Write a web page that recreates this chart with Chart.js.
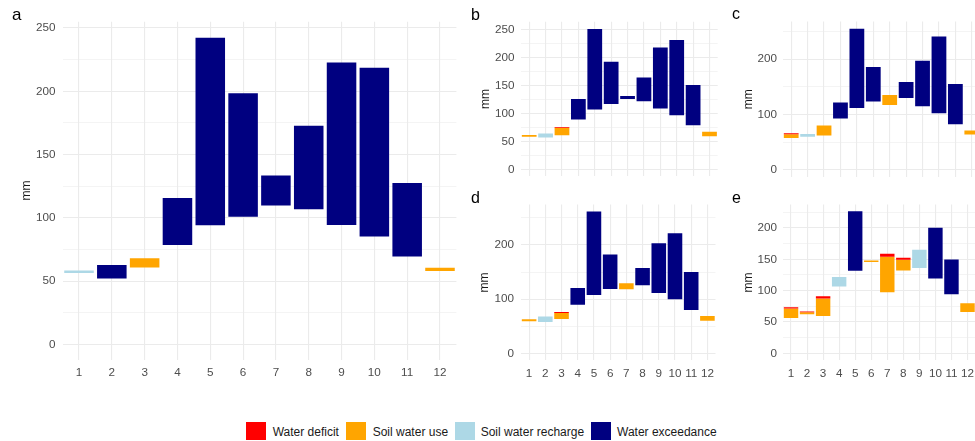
<!DOCTYPE html>
<html lang="en">
<head>
<meta charset="UTF-8">
<title>Monthly water balance</title>
<script src="https://cdn.jsdelivr.net/npm/chart.js"></script>
<style>
    body {
        margin: 0;
        background: #fff;
        overflow: hidden;
        font-family: "Liberation Sans", Arial, sans-serif;
    }
    #page {
        position: relative;
        width: 975px;
        height: 441px;
        overflow: hidden;
    }
    canvas {
        position: absolute;
    }
    .tag {
        position: absolute;
        color: #000;
        line-height: 1;
    }
    .key {
        position: absolute;
        top: 421.5px;
        width: 20px;
        height: 18px;
    }
    .lab {
        position: absolute;
        top: 425.8px;
        font-size: 12px;
        line-height: 1;
        color: #1a1a1a;
        white-space: nowrap;
    }
</style>
</head>
<body>
<div id="page">
    <canvas id="chartA" width="460" height="390" style="left:0;top:0"></canvas>
    <canvas id="chartB" width="260" height="190" style="left:460px;top:0"></canvas>
    <canvas id="chartC" width="260" height="190" style="left:720px;top:0"></canvas>
    <canvas id="chartD" width="260" height="200" style="left:460px;top:190px"></canvas>
    <canvas id="chartE" width="260" height="200" style="left:720px;top:190px"></canvas>

    <div class="tag" style="left:12px;top:5.6px;font-size:17px">a</div>
    <div class="tag" style="left:471px;top:7px;font-size:16px">b</div>
    <div class="tag" style="left:732px;top:6px;font-size:16px">c</div>
    <div class="tag" style="left:471px;top:190px;font-size:16px">d</div>
    <div class="tag" style="left:732px;top:189.5px;font-size:16px">e</div>

    <div class="key" style="left:245.5px;background:#FF0000"></div>
    <div class="lab" style="left:272.7px">Water deficit</div>
    <div class="key" style="left:345.5px;background:#FFA500"></div>
    <div class="lab" style="left:372.7px">Soil water use</div>
    <div class="key" style="left:454.5px;background:#ADD8E6"></div>
    <div class="lab" style="left:480.7px">Soil water recharge</div>
    <div class="key" style="left:590.5px;background:#000080"></div>
    <div class="lab" style="left:617px">Water exceedance</div>
</div>

<script>
    const months = ['1', '2', '3', '4', '5', '6', '7', '8', '9', '10', '11', '12'];
    const seriesNames = ['Water deficit', 'Soil water use', 'Soil water recharge', 'Water exceedance'];
    const seriesColors = ['#FF0000', '#FFA500', '#ADD8E6', '#000080'];

    // each entry is [bottom, top] in mm, null = no bar that month
    // panel a
    const aDeficit = [null, null, null, null, null, null, null, null, null, null, null, null];
    const aUse = [null, null, [60.8, 68.1], null, null, null, null, null, null, null, null, [57.9, 60.5]];
    const aRecharge = [[56.3, 58.4], null, null, null, null, null, null, null, null, null, null, null];
    const aExceed = [null, [52, 62.6], null, [78.6, 115.6], [94.1, 242.4], [100.9, 198.4], [109.8, 133.4], [106.7, 172.7], [94.3, 222.7], [85.2, 218.6], [69.4, 127.6], null];

    // panel b
    const bDeficit = [null, null, [74.5, 76], null, null, null, null, null, null, null, null, null];
    const bUse = [[58.5, 61.5], null, [61.2, 74.5], null, null, null, null, null, null, null, null, [59.4, 67.6]];
    const bRecharge = [null, [57, 64.1], null, null, null, null, null, null, null, null, null, null];
    const bExceed = [null, null, null, [89.4, 125.9], [107, 250.6], [117, 192.4], [126, 131], [121.8, 164], [108.8, 217.6], [97, 231], [78.8, 150.6], null];

    // panel c
    const cDeficit = [[64.5, 66], null, null, null, null, null, null, null, null, null, null, null];
    const cUse = [[57.5, 64.5], null, [62.3, 80.2], null, null, null, [117.4, 135.3], null, null, null, null, [64, 71.3]];
    const cRecharge = [null, [59.9, 64.7], null, null, null, null, null, null, null, null, null, null];
    const cExceed = [null, null, null, [92.8, 121.6], [112, 255], [123.4, 185.6], null, [130, 158.7], [115, 197], [102.4, 240.7], [82.6, 155], null];

    // panel d
    const dDeficit = [null, null, [74.5, 76.3], null, null, null, null, null, null, null, null, null];
    const dUse = [[59.1, 62.8], null, [63.4, 74.5], null, null, null, [118.2, 129.2], null, null, null, null, [60.3, 68.9]];
    const dRecharge = [null, [57.8, 67.7], null, null, null, null, null, null, null, null, null, null];
    const dExceed = [null, null, null, [89.8, 120.6], [107.7, 261.5], [118.8, 182.2], null, [125.5, 157.5], [111.4, 203], [99.7, 221.5], [80, 150.2], null];

    // panel e
    const eDeficit = [[71.5, 73.6], [65.5, 66.7], [87.5, 91.2], null, null, null, [154.1, 159], [149.3, 152.5], null, null, null, null];
    const eUse = [[56.5, 71.5], [62.4, 65.5], [59.7, 87.5], null, null, [145.6, 148.3], [97.6, 154.1], [132.3, 149.3], null, null, null, [66.1, 80]];
    const eRecharge = [null, null, null, [106.7, 121.6], null, null, null, null, [136, 165.3], null, null, null];
    const eExceed = [null, null, null, null, [131.7, 226.7], null, null, null, null, [119.5, 200.5], [94.4, 149.9], null];

    const gridColor = '#EBEBEB';
    const tickColor = '#4D4D4D';
    const fontFamily = '"Liberation Sans", Arial, sans-serif';

    function makePanel(id, series, p) {
        let datasets = series.map((values, i) => ({
            label: seriesNames[i],
            data: values,
            backgroundColor: seriesColors[i],
            borderWidth: 0,
            grouped: false,
            categoryPercentage: 0.9,
            barPercentage: 1.0
        }));

        return new Chart(document.getElementById(id), {
            type: 'bar',
            data: { labels: months, datasets: datasets },
            options: {
                responsive: false,
                animation: false,
                layout: { padding: p.padding },
                plugins: {
                    legend: { display: false },
                    tooltip: { enabled: false }
                },
                scales: {
                    x: {
                        offset: true,
                        border: { display: false },
                        grid: { color: gridColor, lineWidth: 1.1, offset: false, drawTicks: false },
                        ticks: {
                            display: p.showX,
                            color: tickColor,
                            font: { family: fontFamily, size: 11.7 },
                            padding: 6,
                            autoSkip: false,
                            maxRotation: 0,
                            minRotation: 0
                        },
                        afterFit: (s) => { s.height = p.xHeight; }
                    },
                    y: {
                        min: p.min,
                        max: p.max,
                        border: { display: false },
                        grid: {
                            color: gridColor,
                            drawTicks: false,
                            lineWidth: (ctx) => (ctx.tick && ctx.tick.value % p.major === 0) ? 1.1 : 0.55
                        },
                        ticks: {
                            stepSize: p.minor,
                            includeBounds: false,
                            autoSkip: false,
                            color: tickColor,
                            font: { family: fontFamily, size: 11.7 },
                            padding: p.tickPad,
                            callback: (v) => v % p.major === 0 ? v : ''
                        },
                        title: {
                            display: true,
                            text: 'mm',
                            color: '#1a1a1a',
                            font: { family: fontFamily, size: 12 },
                            padding: { top: p.titlePad, bottom: 0 }
                        },
                        afterFit: (s) => { s.width = p.yWidth; }
                    }
                }
            }
        });
    }

    makePanel('chartA', [aDeficit, aUse, aRecharge, aExceed], {
        padding: { top: 21.7, right: 3.6, bottom: 0, left: 0 },
        yWidth: 62.6, xHeight: 30.5, showX: true,
        min: -12, max: 255, major: 50, minor: 25, tickPad: 7, titlePad: 19.5
    });
    makePanel('chartB', [bDeficit, bUse, bRecharge, bExceed], {
        padding: { top: 21.7, right: 2.3, bottom: 0, left: 0 },
        yWidth: 61, xHeight: 12.2, showX: false,
        min: -12.3, max: 263.6, major: 50, minor: 25, tickPad: 6.5, titlePad: 18.8
    });
    makePanel('chartC', [cDeficit, cUse, cRecharge, cExceed], {
        padding: { top: 21.6, right: 0, bottom: 0, left: 0 },
        yWidth: 63, xHeight: 12.2, showX: false,
        min: -12.75, max: 267.75, major: 100, minor: 50, tickPad: 6, titlePad: 21.8
    });
    makePanel('chartD', [dDeficit, dUse, dRecharge, dExceed], {
        padding: { top: 14.5, right: 2.3, bottom: 0, left: 0 },
        yWidth: 61, xHeight: 29.6, showX: true,
        min: -13.1, max: 274.6, major: 100, minor: 50, tickPad: 7, titlePad: 17.8
    });
    makePanel('chartE', [eDeficit, eUse, eRecharge, eExceed], {
        padding: { top: 14.5, right: 0, bottom: 0, left: 0 },
        yWidth: 63, xHeight: 29.6, showX: true,
        min: -11.3, max: 237.5, major: 50, minor: 25, tickPad: 6, titlePad: 21.8
    });
</script>
</body>
</html>
